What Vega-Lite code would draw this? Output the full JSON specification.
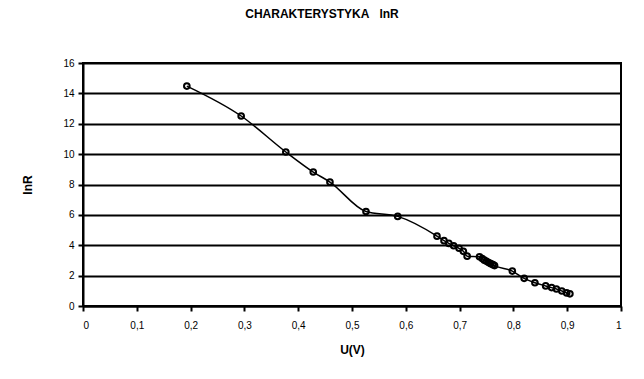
{
  "$schema": "https://vega.github.io/schema/vega-lite/v6.json",
  "width": 538,
  "height": 243,
  "autosize": {"type": "none"},
  "padding": {"left": 83, "top": 63, "right": 23, "bottom": 73},
  "background": "white",
  "title": {
    "text": "CHARAKTERYSTYKA\u00a0\u00a0\u00a0lnR",
    "font": "Liberation Sans",
    "fontSize": 12,
    "fontWeight": "bold",
    "color": "black",
    "anchor": "middle",
    "dx": -30,
    "offset": 37
  },
  "config": {
    "view": {"stroke": "black", "strokeWidth": 2},
    "axis": {
      "domainColor": "black",
      "domainWidth": 2,
      "tickColor": "black",
      "tickWidth": 2,
      "tickSize": 5,
      "labelFont": "Liberation Sans",
      "labelFontSize": 10,
      "labelColor": "black",
      "titleFont": "Liberation Sans",
      "titleFontSize": 12,
      "titleFontWeight": "bold",
      "titleColor": "black"
    }
  },
  "data": {
    "values": [
      {"U": 0.193, "lnR": 14.48},
      {"U": 0.294, "lnR": 12.51},
      {"U": 0.377, "lnR": 10.14},
      {"U": 0.428, "lnR": 8.82},
      {"U": 0.459, "lnR": 8.16},
      {"U": 0.526, "lnR": 6.22},
      {"U": 0.585, "lnR": 5.9},
      {"U": 0.658, "lnR": 4.6},
      {"U": 0.671, "lnR": 4.3},
      {"U": 0.68, "lnR": 4.12},
      {"U": 0.689, "lnR": 3.97},
      {"U": 0.699, "lnR": 3.8},
      {"U": 0.707, "lnR": 3.6},
      {"U": 0.714, "lnR": 3.28},
      {"U": 0.737, "lnR": 3.24},
      {"U": 0.742, "lnR": 3.12},
      {"U": 0.746, "lnR": 3.02},
      {"U": 0.75, "lnR": 2.94},
      {"U": 0.754, "lnR": 2.86},
      {"U": 0.758, "lnR": 2.79},
      {"U": 0.762, "lnR": 2.72},
      {"U": 0.765, "lnR": 2.66},
      {"U": 0.798, "lnR": 2.3},
      {"U": 0.82, "lnR": 1.82},
      {"U": 0.84, "lnR": 1.53},
      {"U": 0.86, "lnR": 1.32},
      {"U": 0.871, "lnR": 1.21},
      {"U": 0.88, "lnR": 1.12},
      {"U": 0.89, "lnR": 0.99},
      {"U": 0.899, "lnR": 0.86},
      {"U": 0.905, "lnR": 0.8}
    ]
  },
  "encoding": {
    "x": {
      "field": "U",
      "type": "quantitative",
      "scale": {"domain": [0, 1], "nice": false, "zero": false},
      "axis": {
        "values": [0, 0.1, 0.2, 0.3, 0.4, 0.5, 0.6, 0.7, 0.8, 0.9, 1],
        "grid": false,
        "labelExpr": "replace(format(datum.value, '~g'), '.', ',')",
        "labelPadding": 9,
        "title": "U(V)",
        "titlePadding": 14
      }
    },
    "y": {
      "field": "lnR",
      "type": "quantitative",
      "scale": {"domain": [0, 16], "nice": false},
      "axis": {
        "values": [0, 2, 4, 6, 8, 10, 12, 14, 16],
        "grid": true,
        "gridColor": "black",
        "gridWidth": 2,
        "gridOpacity": 1,
        "labelPadding": 4,
        "title": "lnR",
        "titlePadding": 28
      }
    }
  },
  "layer": [
    {
      "mark": {"type": "line", "interpolate": "monotone", "color": "black", "strokeWidth": 1.5}
    },
    {
      "mark": {"type": "point", "shape": "circle", "filled": false, "stroke": "black", "strokeWidth": 2, "size": 32, "opacity": 1}
    }
  ]
}
